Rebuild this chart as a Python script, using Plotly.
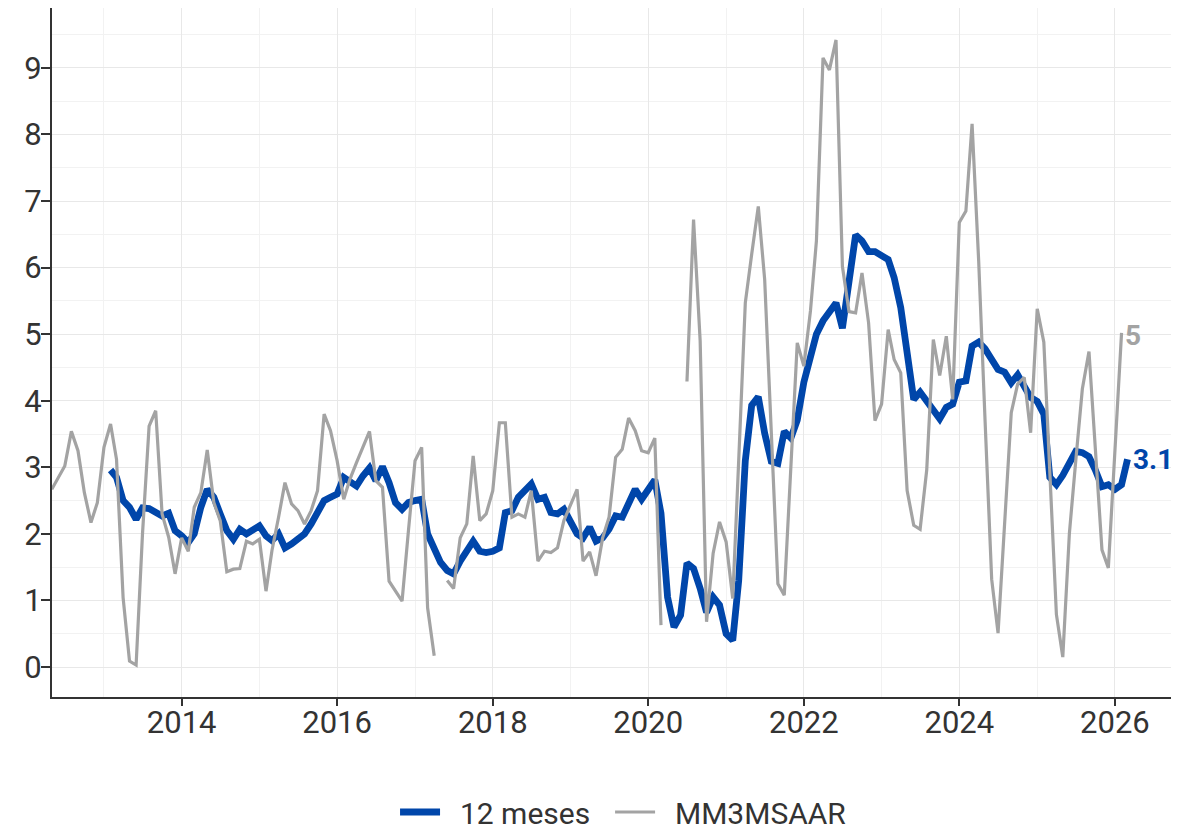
import pandas as pd
import plotly.graph_objects as go

# ---- data (monthly) ----
mm3_start = "2012-05-01"
mm3msaar = [
    2.67, 2.85, 3.02, 3.54, 3.25, 2.62, 2.17, 2.47,                      # 2012 May-Dec
    3.30, 3.65, 3.12, 1.04, 0.09, 0.03, 2.00, 3.62, 3.85, 2.30, 1.95, 1.40,  # 2013
    1.94, 1.74, 2.40, 2.62, 3.26, 2.47, 2.20, 1.43, 1.47, 1.48, 1.89, 1.85,  # 2014
    1.92, 1.14, 1.75, 2.25, 2.77, 2.45, 2.35, 2.15, 2.35, 2.65, 3.80, 3.55,  # 2015
    3.10, 2.52, 2.82, 3.07, 3.30, 3.54, 2.80, 2.70, 1.29, 1.14, 0.99, 2.05,  # 2016
    3.10, 3.30, 0.89, 0.17, None, 1.30, 1.18, 1.94, 2.15, 3.17, 2.20, 2.30,  # 2017
    2.65, 3.67, 3.67, 2.25, 2.30, 2.25, 2.65, 1.59, 1.74, 1.72, 1.79, 2.20,  # 2018
    2.45, 2.67, 1.59, 1.73, 1.37, 1.94, 2.25, 3.15, 3.27, 3.74, 3.55, 3.25,  # 2019
    3.22, 3.44, 0.63, None, None, None, 4.29, 6.72, 4.90, 0.68, 1.71, 2.18,  # 2020
    1.88, 1.03, 3.10, 5.47, 6.20, 6.92, 5.82, 3.60, 1.25, 1.08, 3.00, 4.87,  # 2021
    4.52, 5.35, 6.40, 9.15, 8.97, 9.42, 6.02, 5.34, 5.32, 5.92, 5.17, 3.70,  # 2022
    3.95, 5.07, 4.62, 4.42, 2.65, 2.13, 2.07, 2.96, 4.92, 4.38, 4.97, 4.02,  # 2023
    6.68, 6.85, 8.16, 6.10, 3.70, 1.32, 0.51, 2.10, 3.82, 4.25, 4.35, 3.52,  # 2024
    5.38, 4.88, 2.90, 0.79, 0.15, 2.01, 3.10, 4.18, 4.74, 3.20, 1.76, 1.49,  # 2025
    3.24, 5.02,                                                          # 2026 Jan-Feb
]

yoy_start = "2013-02-01"
meses12 = [
    2.96, 2.85, 2.50, 2.40, 2.22, 2.39, 2.38, 2.33, 2.27, 2.31, 2.05,        # 2013 Feb-Dec
    1.97, 1.87, 2.00, 2.40, 2.67, 2.55, 2.30, 2.05, 1.92, 2.07, 2.00, 2.05,  # 2014
    2.12, 1.97, 1.90, 2.00, 1.79, 1.85, 1.94, 2.00, 2.15, 2.32, 2.50, 2.55,  # 2015
    2.60, 2.85, 2.80, 2.72, 2.87, 2.99, 2.80, 3.01, 2.77, 2.47, 2.37, 2.47,  # 2016
    2.50, 2.52, 2.00, 1.77, 1.57, 1.45, 1.40, 1.59, 1.74, 1.89, 1.74, 1.72,  # 2017
    1.74, 1.79, 2.32, 2.35, 2.55, 2.65, 2.75, 2.52, 2.55, 2.32, 2.30, 2.37,  # 2018
    2.20, 2.00, 1.94, 2.10, 1.89, 1.94, 2.07, 2.27, 2.25, 2.45, 2.67, 2.52,  # 2019
    2.67, 2.81, 2.31, 1.05, 0.60, 0.78, 1.56, 1.48, 1.18, 0.82, 1.05, 0.93,  # 2020
    0.50, 0.40, 1.30, 3.10, 3.93, 4.06, 3.51, 3.09, 3.06, 3.54, 3.44, 3.71,  # 2021
    4.28, 4.70, 5.00, 5.20, 5.35, 5.47, 5.09, 5.85, 6.49, 6.40, 6.24, 6.24,  # 2022
    6.19, 6.12, 5.85, 5.40, 4.72, 4.02, 4.13, 4.00, 3.85, 3.73, 3.90, 3.95,  # 2023
    4.28, 4.30, 4.82, 4.88, 4.78, 4.60, 4.47, 4.43, 4.27, 4.39, 4.24, 4.05,  # 2024
    3.99, 3.80, 2.85, 2.74, 2.88, 3.04, 3.24, 3.22, 3.16, 2.96, 2.71, 2.74,  # 2025
    2.67, 2.74, 3.12,                                                    # 2026 Jan-Mar
]

series_names = ["12 meses", "MM3MSAAR"]
x_ticks_start = "2014-01-01"

mm3_dates = pd.date_range(mm3_start, periods=len(mm3msaar), freq="MS")
yoy_dates = pd.date_range(yoy_start, periods=len(meses12), freq="MS")

BLUE = "#0046AA"
GRAY = "#A3A3A3"
TXT = "#333333"
FONT = "Roboto"
NB = "\u00a0"

fig = go.Figure()
fig.add_trace(go.Scatter(x=yoy_dates, y=meses12, mode="lines",
                         name=NB * 2 + series_names[0] + NB * 2,
                         line=dict(color=BLUE, width=6.8), connectgaps=False))
fig.add_trace(go.Scatter(x=mm3_dates, y=mm3msaar, mode="lines",
                         name=NB * 2 + series_names[1],
                         line=dict(color=GRAY, width=3.2), connectgaps=False))


def lbl(v):
    return f"{round(v, 1):g}"


fig.add_annotation(x=mm3_dates[-1], y=mm3msaar[-1], text=f"<b>{lbl(mm3msaar[-1])}</b>",
                   showarrow=False, xanchor="left", yanchor="middle", xshift=1, yshift=-3,
                   font=dict(family=FONT, size=28, color=GRAY))
fig.add_annotation(x=yoy_dates[-1], y=meses12[-1], text=f"<b>{lbl(meses12[-1])}</b>",
                   showarrow=False, xanchor="left", yanchor="middle", xshift=3,
                   font=dict(family=FONT, size=28, color=BLUE))

# page body adds an 8px offset; figure sized to fill the remaining window
fig.update_layout(
    width=1171, height=824,
    margin=dict(l=44, r=4, t=0, b=135, autoexpand=False),
    plot_bgcolor="white", paper_bgcolor="white",
    font=dict(family=FONT, size=31, color=TXT),
    showlegend=True,
    legend=dict(orientation="h", x=0.5085, xanchor="center",
                yref="container", y=0.0243, yanchor="middle",
                font=dict(family=FONT, size=30, color=TXT), itemwidth=40,
                bgcolor="rgba(0,0,0,0)"),
)

fig.update_xaxes(
    type="date", range=["2012-05-02", "2026-10-10"],
    tickformat="%Y", dtick="M24", tick0=x_ticks_start,
    showgrid=True, gridcolor="#e8e8e8", gridwidth=1,
    minor=dict(dtick="M12", tick0=x_ticks_start, showgrid=True, gridcolor="#f2f2f2", gridwidth=1),
    showline=True, linecolor=TXT, linewidth=2,
    ticks="outside", ticklen=7, tickwidth=2, tickcolor=TXT,
    zeroline=False, automargin=False, ticklabelstandoff=-10,
    tickfont=dict(family=FONT, size=31, color=TXT),
)
fig.update_yaxes(
    range=[-0.45, 9.9], dtick=1, tick0=0,
    showgrid=True, gridcolor="#e8e8e8", gridwidth=1,
    minor=dict(dtick=0.5, tick0=0, showgrid=True, gridcolor="#f2f2f2", gridwidth=1),
    showline=True, linecolor=TXT, linewidth=2,
    ticks="outside", ticklen=9, tickwidth=2, tickcolor=TXT,
    zeroline=False, automargin=False, ticklabelstandoff=-7,
    tickfont=dict(family=FONT, size=31, color=TXT),
)

fig.write_html("out.html")
